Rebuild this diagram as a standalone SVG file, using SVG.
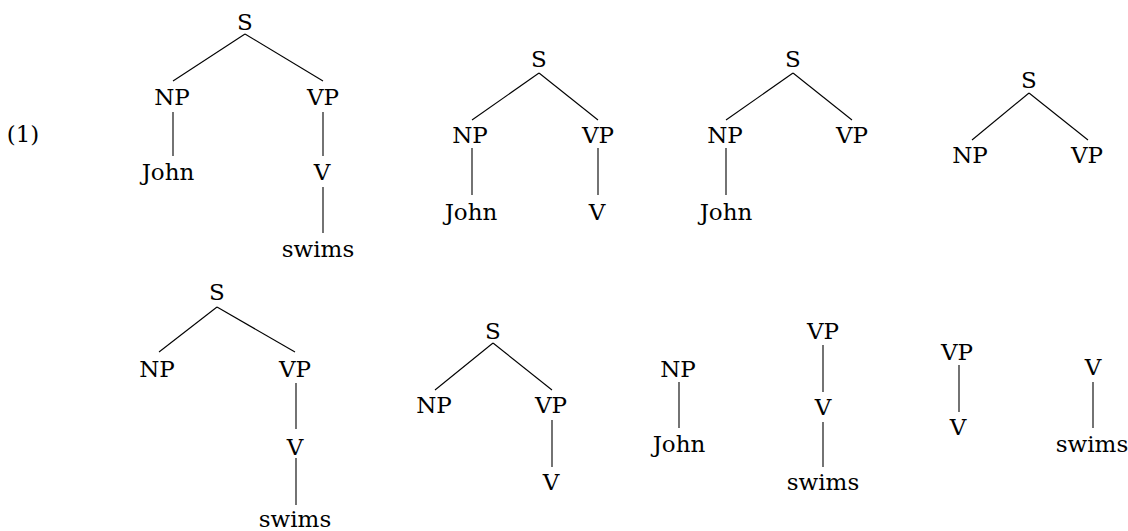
<svg xmlns="http://www.w3.org/2000/svg" width="1128" height="531" viewBox="0 0 1128 531">
<style>
text{font-family:"DejaVu Serif",serif;font-size:23px;fill:#000;text-anchor:middle}
line{stroke:#000;stroke-width:1.1}
</style>
<rect width="1128" height="531" fill="#fff"/>
<text id="label1" x="23" y="142">(1)</text>
<g id="connectors">
<line x1="245" y1="34" x2="173" y2="81"/><line x1="245" y1="34" x2="323" y2="81"/>
<line x1="173" y1="112" x2="173" y2="156"/><line x1="323" y1="112" x2="323" y2="156"/>
<line x1="323" y1="187" x2="323" y2="233"/>
<line x1="539" y1="73" x2="472" y2="120"/><line x1="539" y1="73" x2="598" y2="120"/>
<line x1="472" y1="148" x2="472" y2="195"/><line x1="598" y1="148" x2="598" y2="195"/>
<line x1="793" y1="73" x2="726" y2="120"/><line x1="793" y1="73" x2="852" y2="120"/>
<line x1="726" y1="148" x2="726" y2="195"/>
<line x1="1029" y1="93" x2="972" y2="140"/><line x1="1029" y1="93" x2="1088" y2="140"/>
<line x1="217" y1="307" x2="159" y2="352"/><line x1="217" y1="307" x2="295" y2="352"/>
<line x1="296" y1="383" x2="296" y2="429"/><line x1="296" y1="458" x2="296" y2="505"/>
<line x1="493" y1="343" x2="435" y2="390"/><line x1="493" y1="343" x2="552" y2="390"/>
<line x1="552" y1="420" x2="552" y2="467"/>
<line x1="679" y1="382" x2="679" y2="428"/>
<line x1="823" y1="345" x2="823" y2="392"/><line x1="823" y1="422" x2="823" y2="467"/>
<line x1="959" y1="365" x2="959" y2="412"/>
<line x1="1093" y1="382" x2="1093" y2="428"/>
</g>
<g id="tree1">
<text x="245" y="30">S</text><text x="172" y="105">NP</text><text x="323" y="105">VP</text>
<text x="168" y="180">John</text><text x="322" y="180">V</text><text x="318" y="257">swims</text>
</g>
<g id="tree2">
<text x="539" y="67">S</text><text x="470" y="143">NP</text><text x="598" y="143">VP</text>
<text x="471" y="220">John</text><text x="597" y="220">V</text>
</g>
<g id="tree3">
<text x="793" y="67">S</text><text x="725" y="143">NP</text><text x="852" y="143">VP</text>
<text x="726" y="220">John</text>
</g>
<g id="tree4">
<text x="1029" y="88">S</text><text x="970" y="163">NP</text><text x="1087" y="163">VP</text>
</g>
<g id="tree5">
<text x="217" y="300">S</text><text x="157" y="377">NP</text><text x="295" y="377">VP</text>
<text x="295" y="455">V</text><text x="295" y="527">swims</text>
</g>
<g id="tree6">
<text x="493" y="339">S</text><text x="434" y="413">NP</text><text x="551" y="413">VP</text>
<text x="551" y="490">V</text>
</g>
<g id="tree7">
<text x="678" y="377">NP</text><text x="679" y="452">John</text>
</g>
<g id="tree8">
<text x="823" y="339">VP</text><text x="823" y="415">V</text><text x="823" y="490">swims</text>
</g>
<g id="tree9">
<text x="957" y="360">VP</text><text x="958" y="435">V</text>
</g>
<g id="tree10">
<text x="1093" y="375">V</text><text x="1092" y="452">swims</text>
</g>
</svg>
